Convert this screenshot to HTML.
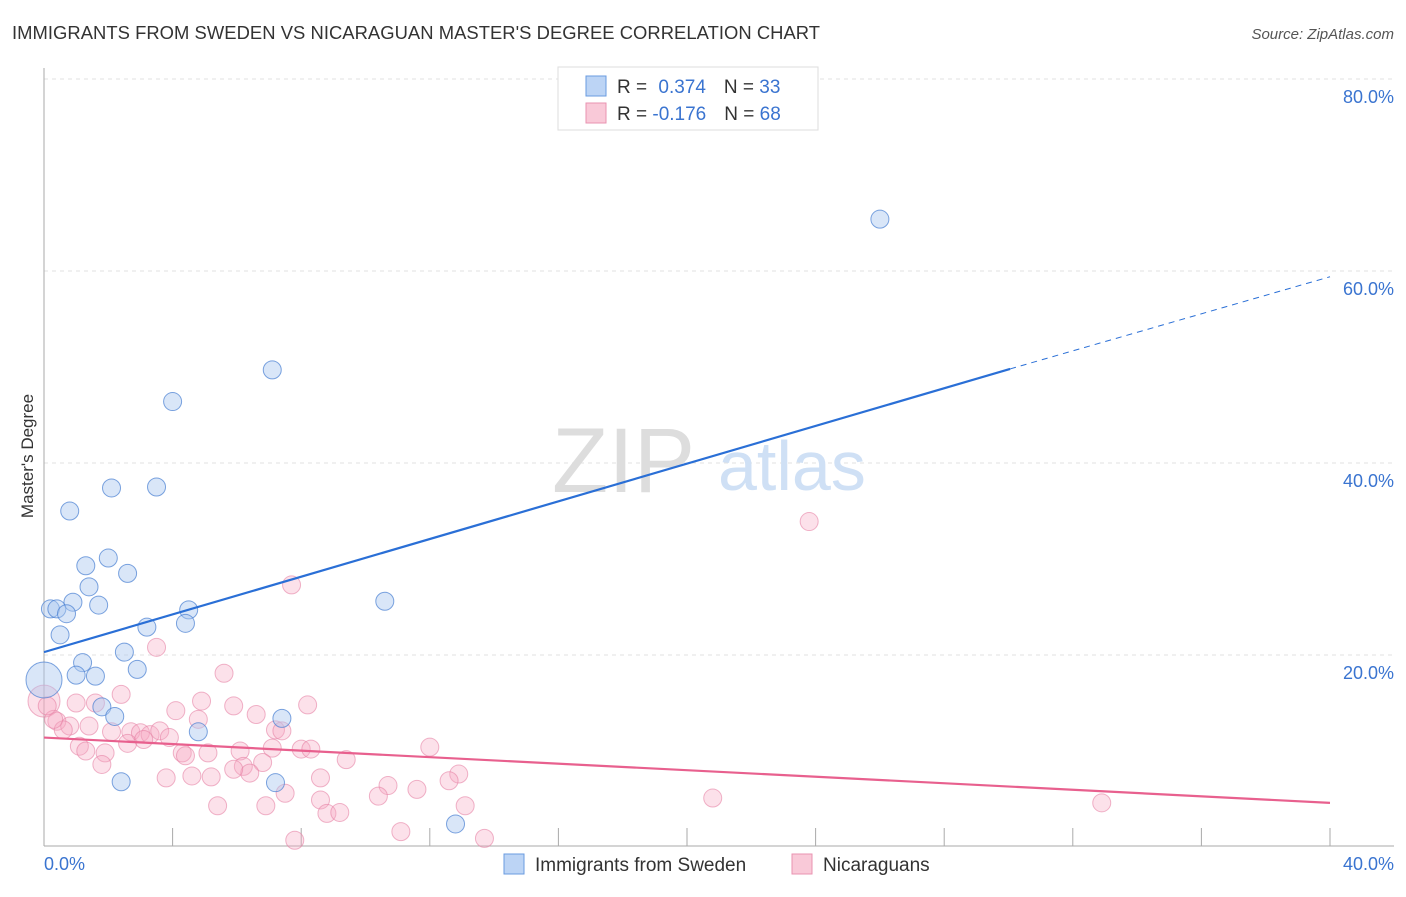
<!DOCTYPE html>
<html><head><meta charset="utf-8"><style>
body{margin:0;background:#fff;font-family:"Liberation Sans",sans-serif;}
svg text{font-family:"Liberation Sans",sans-serif;}
</style></head><body>
<svg id="chart" width="1406" height="892" viewBox="0 0 1406 892">
<text x="12" y="39" font-size="18.4" fill="#333" textLength="808">IMMIGRANTS FROM SWEDEN VS NICARAGUAN MASTER'S DEGREE CORRELATION CHART</text>
<text x="1394" y="39" font-size="15" fill="#555" font-style="italic" text-anchor="end">Source: ZipAtlas.com</text>
<text transform="translate(33,456) rotate(-90)" font-size="17" fill="#333" text-anchor="middle">Master's Degree</text>
<g id="grid"></g>
<text x="552" y="492" font-size="92" fill="#ddd" font-family="Liberation Serif">ZIP</text>
<text x="718" y="490" font-size="70" fill="#cfe0f5">atlas</text>
<g id="pts"></g>
<g id="lines"></g>
<g>
<rect x="558" y="67" width="260" height="63" fill="#fff" stroke="#ddd"/>
<rect x="586" y="76" width="20" height="20" fill="#bcd4f5" stroke="#6a9be0"/>
<rect x="586" y="103" width="20" height="20" fill="#f9c9d8" stroke="#e993b1"/>
<text x="617" y="93" font-size="19" fill="#333">R = <tspan fill="#3a74d0" dx="6">0.374</tspan><tspan dx="18" fill="#333">N = </tspan><tspan fill="#3a74d0">33</tspan></text>
<text x="617" y="120" font-size="19" fill="#333">R = <tspan fill="#3a74d0">-0.176</tspan><tspan dx="18" fill="#333">N = </tspan><tspan fill="#3a74d0">68</tspan></text>
</g>
<g>
<rect x="504" y="854" width="20" height="20" fill="#bcd4f5" stroke="#6a9be0"/>
<text x="535" y="871" font-size="19" fill="#333">Immigrants from Sweden</text>
<rect x="792" y="854" width="20" height="20" fill="#f9c9d8" stroke="#e993b1"/>
<text x="823" y="871" font-size="19" fill="#333">Nicaraguans</text>
</g>
<text x="44" y="870" font-size="18" fill="#3a74d0">0.0%</text>
<text x="1394" y="870" font-size="18" fill="#3a74d0" text-anchor="end">40.0%</text>
</svg>
<script>
const yTicks=[20,40,60,80];
const blueX=[26.0,7.1,4.0,2.1,3.5,0.8,2.0,1.3,2.6,1.4,0.9,1.7,0.2,0.4,0.7,4.5,4.4,3.2,0.5,2.5,1.2,2.9,1.0,1.6,0.0,1.8,2.2,7.4,4.8,10.6,2.4,7.2,12.8];
const blueY=[65.4,49.7,46.4,37.4,37.5,35.0,30.1,29.3,28.5,27.1,25.5,25.2,24.8,24.8,24.3,24.7,23.3,22.9,22.1,20.3,19.2,18.5,17.9,17.8,17.4,14.6,13.6,13.4,12.0,25.6,6.8,6.7,2.4];
const blueR=[9,9,9,9,9,9,9,9,9,9,9,9,9,9,9,9,9,9,9,9,9,9,9,9,18,9,9,9,9,9,9,9,9];
const pinkX=[23.8,7.7,3.5,5.6,2.4,0.0,4.9,1.6,1.0,5.9,8.2,4.8,6.6,0.4,1.4,0.8,4.1,2.1,2.7,3.0,3.3,3.6,3.9,0.6,7.2,7.4,2.6,1.1,1.3,1.9,4.3,4.4,5.1,6.1,7.1,8.0,8.3,12.0,9.4,6.2,6.8,6.4,1.8,3.8,4.6,5.2,8.6,12.9,12.6,10.7,11.6,10.4,7.5,5.4,6.9,8.6,13.1,20.8,32.9,8.8,9.2,11.1,7.8,13.7,0.3,0.1,3.1,5.9];
const pinkY=[33.9,27.3,20.8,18.1,15.9,15.2,15.2,15.0,15.0,14.7,14.8,13.3,13.8,13.1,12.6,12.6,14.2,12.0,12.0,11.9,11.7,12.1,11.4,12.2,12.2,12.1,10.8,10.5,10.0,9.8,9.8,9.5,9.8,10.0,10.3,10.2,10.2,10.4,9.1,8.4,8.8,7.7,8.6,7.2,7.4,7.3,7.2,7.6,6.9,6.4,6.0,5.3,5.6,4.3,4.3,4.9,4.3,5.1,4.6,3.5,3.6,1.6,0.7,0.9,13.3,14.7,11.2,8.1];
const pinkR=pinkX.map((v,i)=>i===5?16:9);
const blueFit=[20.3,49.8];const blueFitEnd=59.4;
const pinkFit=[11.4,4.6];
const X=v=>44+v/40*1286, Y=v=>847-v*9.6;
const NS='http://www.w3.org/2000/svg';
function mk(t,a,p){const e=document.createElementNS(NS,t);for(const k in a)e.setAttribute(k,a[k]);p.appendChild(e);return e;}
const grid=document.getElementById('grid');
yTicks.forEach(t=>{
 const l=mk('line',{x1:44,x2:1394,y1:Y(t),y2:Y(t),stroke:'#e2e2e2','stroke-dasharray':'4,4'},grid);
 
 
 const tx=mk('text',{x:1394,y:Y(t)+24,'font-size':18,fill:'#3a74d0','text-anchor':'end'},grid);
 tx.textContent=t.toFixed(1)+'%';
 
 
});
mk('line',{x1:44,x2:44,y1:68,y2:846,stroke:'#aaa'},grid);
mk('line',{x1:44,x2:1394,y1:846,y2:846,stroke:'#aaa'},grid);
for(let i=1;i<=10;i++){mk('line',{x1:X(i*4),x2:X(i*4),y1:828,y2:846,stroke:'#aaa'},grid);}
const pts=document.getElementById('pts');
pinkX.forEach((v,i)=>{const c=mk('circle',{cx:X(v),cy:Y(pinkY[i]),r:pinkR[i],fill:'rgba(245,170,196,0.35)',stroke:'rgba(230,130,165,0.6)','stroke-width':1},pts);
 
 });
blueX.forEach((v,i)=>{const c=mk('circle',{cx:X(v),cy:Y(blueY[i]),r:blueR[i],fill:'rgba(170,200,240,0.45)',stroke:'rgba(70,125,210,0.7)','stroke-width':1},pts);
 
 });
const lines=document.getElementById('lines');
const b1=mk('line',{x1:X(0),y1:Y(blueFit[0]),x2:X(30.05),y2:Y(blueFit[1]),stroke:'#2a6fd6','stroke-width':2.2},lines);


const b2=mk('line',{x1:X(30.05),y1:Y(blueFit[1]),x2:X(40),y2:Y(blueFitEnd),stroke:'#2a6fd6','stroke-width':1,'stroke-dasharray':'6,5'},lines);


const p1=mk('line',{x1:X(0),y1:Y(pinkFit[0]),x2:X(40),y2:Y(pinkFit[1]),stroke:'#e8608e','stroke-width':2.2},lines);


</script>
</body></html>
